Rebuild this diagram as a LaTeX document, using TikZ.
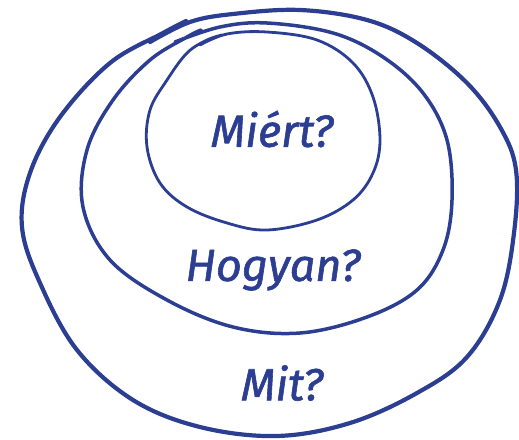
\documentclass[tikz,border=0pt]{standalone}
\usepackage{fontspec}
\setmainfont{Fira Sans}
\newfontfamily\handfont{Fira Sans}[FakeBold=1.3]
\definecolor{ink}{RGB}{44,62,146}
\tikzset{
  ring/.style={draw=ink,line width=#1,line cap=round,line join=round},
  ring/.default=2.5pt,
  question/.style={text=ink,font=\fontsize{#1}{#1}\selectfont\handfont\itshape,inner sep=0pt},
  question/.default=45,
}

\begin{document}
\begin{tikzpicture}[x=1pt,y=-1pt]
  \useasboundingbox (0,0) rectangle (519,439);
  % outer ring: Mit?
  \draw[ring=4.2pt] plot[smooth,tension=0.6] coordinates {(150,42) (190,22) (233,14) (300,10) (367,20) (417,43) (467,83) (500,127) (516,170) (514,233) (500,300) (467,357) (417,393) (350,423) (277,436) (200,427) (133,400) (77,350) (40,283) (22,227) (30,173) (60,117) (110,63) (163,33) (186,21)};
  % middle ring: Hogyan?
  \draw[ring=3.5pt] plot[smooth,tension=0.6] coordinates {(175,42) (220,27) (267,23) (333,33) (383,57) (423,93) (447,140) (452,200) (443,250) (417,290) (367,317) (300,333) (233,327) (167,300) (110,260) (83,207) (87,150) (113,100) (150,60) (187,37) (201,30)};
  % inner ring: Miért?
  \draw[ring=2.8pt] plot[smooth,tension=0.6] coordinates {(200,45) (227,34) (267,32) (317,40) (353,63) (373,97) (380,140) (373,173) (353,200) (317,220) (267,230) (227,223) (187,207) (160,183) (147,147) (150,110) (167,80) (187,53) (207,40) (222,35)};
  \node[question] (why) at (272,129) {Miért?};
  \node[question] (how) at (273,270) {Hogyan?};
  \node[question] (what) at (282,383) {Mit?};
\end{tikzpicture}
\end{document}
